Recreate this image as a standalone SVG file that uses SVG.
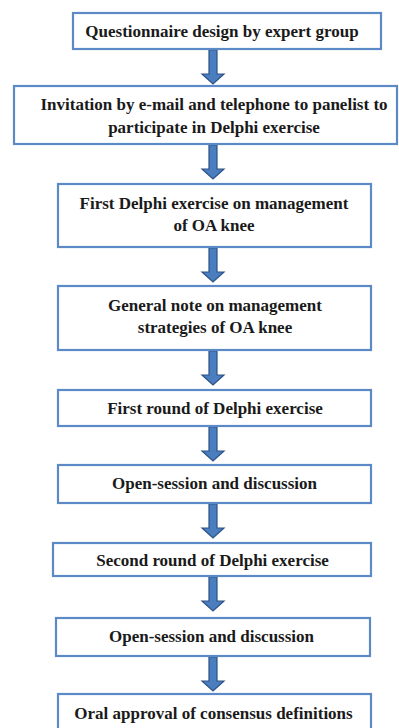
<svg xmlns="http://www.w3.org/2000/svg" width="399" height="728" viewBox="0 0 399 728">
<defs>
<style>
.box{fill:#ffffff;stroke:#5b8ac6;stroke-width:2.2}
.t{font-family:"Liberation Serif","Times New Roman",serif;font-weight:bold;font-size:17px;fill:#1a1a1a;text-anchor:middle}
.arr{fill:#4a7ebf;stroke:#2c5286;stroke-width:1.2}
</style>
<path id="a" d="M-4,0 H4 V24 H11 L0,34 L-11,24 H-4 Z"/>
</defs>
<rect width="399" height="728" fill="#ffffff"/>
<g id="connectors">
<use href="#a" class="arr" x="213" y="50"/>
<use href="#a" class="arr" x="213" y="145"/>
<use href="#a" class="arr" x="213" y="248"/>
<use href="#a" class="arr" x="213" y="351"/>
<use href="#a" class="arr" x="213" y="427"/>
<use href="#a" class="arr" x="213" y="504"/>
<use href="#a" class="arr" x="213" y="577"/>
<use href="#a" class="arr" x="213" y="657"/>
</g>
<g id="n1"><rect class="box" x="73" y="13" width="308" height="36"/><text class="t" x="222" y="36.5">Questionnaire design by expert group</text></g>
<g id="n2"><rect class="box" x="14" y="86" width="383" height="58"/><text class="t" x="214" y="110">Invitation by e-mail and telephone to panelist to</text><text class="t" x="214" y="133">participate in Delphi exercise</text></g>
<g id="n3"><rect class="box" x="58" y="184" width="313" height="63"/><text class="t" x="214" y="208.5">First Delphi exercise on management</text><text class="t" x="214" y="230.5">of OA knee</text></g>
<g id="n4"><rect class="box" x="58" y="286" width="313" height="64"/><text class="t" x="215" y="310.5">General note on management</text><text class="t" x="215" y="332.5">strategies of OA knee</text></g>
<g id="n5"><rect class="box" x="58" y="390" width="313" height="36"/><text class="t" x="215" y="413.5">First round of Delphi exercise</text></g>
<g id="n6"><rect class="box" x="58" y="465" width="313" height="38"/><text class="t" x="214.5" y="488.5">Open-session and discussion</text></g>
<g id="n7"><rect class="box" x="53" y="543" width="318" height="33"/><text class="t" x="212.5" y="565.5">Second round of Delphi exercise</text></g>
<g id="n8"><rect class="box" x="56" y="618" width="314" height="38"/><text class="t" x="211.5" y="642">Open-session and discussion</text></g>
<g id="n9"><rect class="box" x="58" y="694" width="313" height="50"/><text class="t" x="213.5" y="718.5">Oral approval of consensus definitions</text></g>
</svg>
